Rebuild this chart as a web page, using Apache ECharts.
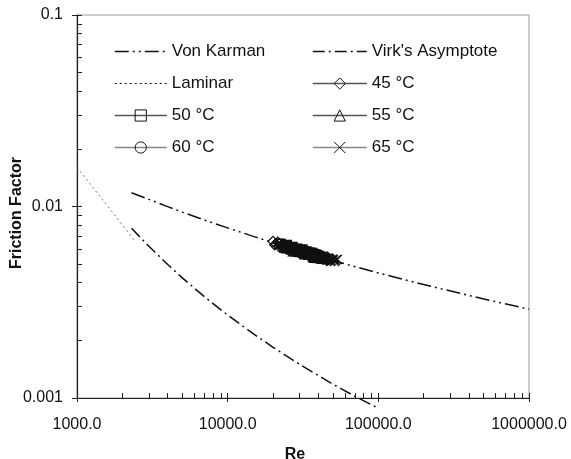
<!DOCTYPE html>
<html>
<head>
<meta charset="utf-8">
<script src="https://cdn.jsdelivr.net/npm/echarts@6/dist/echarts.min.js"></script>
<style>
  html, body { margin: 0; padding: 0; background: #fff; }
  #chart { width: 571px; height: 459px; }
</style>
</head>
<body>
<div id="chart"></div>
<script>
// Axis ticks and labels
const xMajorTicks = [1000, 10000, 100000, 1000000];
const xTickLabels = ['1000.0', '10000.0', '100000.0', '1000000.0'];
const xAllTicks = [1000, 2000, 3000, 4000, 5000, 6000, 7000, 8000, 9000,
  10000, 20000, 30000, 40000, 50000, 60000, 70000, 80000, 90000,
  100000, 200000, 300000, 400000, 500000, 600000, 700000, 800000, 900000, 1000000];
const yMajorTicks = [0.001, 0.01, 0.1];
const yTickLabels = ['0.001', '0.01', '0.1'];
const yAllTicks = [0.001, 0.002, 0.003, 0.004, 0.005, 0.006, 0.007, 0.008, 0.009,
  0.01, 0.02, 0.03, 0.04, 0.05, 0.06, 0.07, 0.08, 0.09, 0.1];

// Von Karman (smooth pipe, Newtonian)
const vonKarmanRe = [2300, 3000, 4000, 5000, 7000, 10000, 15000, 20000, 30000, 50000, 70000, 100000, 200000, 500000, 1000000];
const vonKarmanF = [0.0118, 0.0109, 0.00999, 0.00935, 0.0085, 0.00773, 0.00696, 0.00647, 0.00588, 0.00523, 0.00485, 0.0045, 0.00391, 0.00329, 0.00291];

// Virk's maximum drag reduction asymptote
const virkRe = [2300, 3000, 4000, 5000, 7000, 10000, 15000, 20000, 30000, 50000, 70000, 100000];
const virkF = [0.0077, 0.0062, 0.00498, 0.00424, 0.00338, 0.00271, 0.00215, 0.00184, 0.0015, 0.00118, 0.00102, 0.000885];

// Laminar
const laminarRe = [1000, 1500, 2000, 2400];
const laminarF = [0.016, 0.0107, 0.008, 0.00667];

// Measurements (friction factor x 1000)
const re45 = [20000, 20500, 21000, 21500, 22000, 22500, 23000, 23500, 24000, 24500, 25000, 25500, 26000, 26500, 27000, 27500,
  28000, 28500, 29000, 29500, 30000, 30500, 31000, 31500, 32000, 32500, 33000, 33500, 34000, 34500, 35000, 35500, 36000];
const f45 = [6.58, 6.31, 6.35, 6.52, 6.41, 6.23, 6.20, 6.32, 6.27, 6.02, 6.10, 6.23, 6.15, 6.02, 5.97, 5.88,
  6.05, 6.10, 5.88, 5.82, 5.94, 5.91, 5.79, 5.67, 5.85, 5.89, 5.70, 5.67, 5.77, 5.78, 5.62, 5.54, 5.69];

const re50 = [22000, 22550, 23100, 23650, 24200, 24750, 25300, 25850, 26400, 26950, 27500, 28050, 28600, 29150, 29700, 30250,
  30800, 31350, 31900, 32450, 33000, 33550, 34100, 34650, 35200, 35750, 36300, 36850, 37400, 37950, 38500, 39050, 39600];
const f50 = [6.40, 6.38, 6.18, 6.10, 6.26, 6.31, 6.06, 6.03, 6.13, 6.15, 5.94, 5.83, 6.02, 5.98, 5.84, 5.78,
  5.92, 5.97, 5.74, 5.65, 5.81, 5.82, 5.66, 5.63, 5.72, 5.75, 5.57, 5.46, 5.64, 5.62, 5.49, 5.44, 5.56];

const re55 = [24000, 24650, 25300, 25950, 26600, 27250, 27900, 28550, 29200, 29850, 30500, 31150, 31800, 32450, 33100, 33750,
  34400, 35050, 35700, 36350, 37000, 37650, 38300, 38950, 39600, 40250, 40900, 41550, 42200, 42850, 43500];
const f55 = [6.13, 6.07, 6.19, 6.21, 5.99, 5.87, 6.06, 6.01, 5.86, 5.83, 5.93, 5.98, 5.75, 5.65, 5.82, 5.81,
  5.64, 5.64, 5.71, 5.73, 5.54, 5.43, 5.61, 5.59, 5.45, 5.40, 5.52, 5.58, 5.37, 5.35, 5.44];

const re60 = [26000, 26750, 27500, 28250, 29000, 29750, 30500, 31250, 32000, 32750, 33500, 34250, 35000, 35750, 36500, 37250,
  38000, 38750, 39500, 40250, 41000, 41750, 42500, 43250, 44000, 44750, 45500, 46250, 47000, 47750, 48500];
const f60 = [6.16, 6.16, 5.94, 5.91, 6.00, 5.98, 5.80, 5.67, 5.86, 5.90, 5.67, 5.61, 5.74, 5.70, 5.55, 5.47,
  5.62, 5.64, 5.45, 5.43, 5.52, 5.52, 5.36, 5.28, 5.43, 5.48, 5.28, 5.23, 5.35, 5.32, 5.31];

const re65 = [28000, 28800, 29600, 30400, 31200, 32000, 32800, 33600, 34400, 35200, 36000, 36800, 37600, 38400, 39200, 40000,
  40800, 41600, 42400, 43200, 44000, 44800, 45600, 46400, 47200, 48000, 48800, 49600, 50400, 51200, 52000, 52750, 53500];
const f65 = [6.05, 5.88, 5.85, 5.98, 5.90, 5.67, 5.70, 5.82, 5.77, 5.58, 5.57, 5.75, 5.64, 5.48, 5.46, 5.54,
  5.53, 5.30, 5.36, 5.51, 5.43, 5.30, 5.27, 5.39, 5.35, 5.15, 5.20, 5.32, 5.27, 5.15, 5.22, 5.28, 5.30];

const pairs = (xs, ys, scale) => xs.map((x, i) => [x, ys[i] * (scale || 1)]);
const MILLI = 0.001;

const FONT = 'Liberation Sans, Arial, Helvetica, sans-serif';
const INK = '#111';
const HIDDEN_DOT = { color: 'rgba(0,0,0,0)', borderWidth: 0 };
const VK_DASH = [14, 4, 2, 4, 2, 4];
const VIRK_DASH = [12, 4, 2, 4];
const LAM_DASH = [2, 3];
const CROSS = 'path://M0,0L10,10M10,0L0,10';

function lineOnly(name, data, color, width, dash, clip) {
  return {
    name, type: 'line', data,
    symbol: 'circle', symbolSize: 0, showSymbol: false,
    itemStyle: HIDDEN_DOT,
    lineStyle: { color, width, type: dash },
    clip: clip !== false, silent: true, z: 2
  };
}

function measured(name, data, symbol, size) {
  return {
    name, type: 'line', data,
    symbol, symbolSize: size, showSymbol: true,
    itemStyle: { color: 'rgba(255,255,255,0)', borderColor: INK, borderWidth: 1.2 },
    lineStyle: { color: '#333', width: 1 },
    silent: true, z: 3
  };
}

const legendText = { fontSize: 17, color: INK, fontFamily: FONT };
const legendItem = (name, lineColor, dash, width, marker) => ({
  name,
  lineStyle: { color: lineColor, width: width, type: dash },
  itemStyle: marker ? { color: 'rgba(255,255,255,0)', borderColor: INK, borderWidth: 1 } : HIDDEN_DOT
});

const chart = echarts.init(document.getElementById('chart'), null, { renderer: 'canvas' });

chart.setOption({
  animation: false,
  backgroundColor: '#fff',
  textStyle: { fontFamily: FONT },
  grid: {
    left: 77, right: 42, top: 15, bottom: 61,
    show: true, borderColor: '#9a9a9a', borderWidth: 1,
    containLabel: false, outerBoundsMode: 'none'
  },
  legend: [
    {
      orient: 'vertical', left: 114, top: 43, padding: 0,
      itemWidth: 52, itemHeight: 14, itemGap: 15,
      selectedMode: false, textStyle: legendText,
      data: [
        legendItem('Von Karman', INK, VK_DASH, 1.5, false),
        legendItem('Laminar', INK, LAM_DASH, 1.2, false),
        legendItem('50 °C', '#555', 'solid', 1.5, true),
        legendItem('60 °C', '#888', 'solid', 1.5, true)
      ]
    },
    {
      orient: 'vertical', left: 312, top: 43, padding: 0,
      itemWidth: 54, itemHeight: 14, itemGap: 15,
      selectedMode: false, textStyle: legendText,
      data: [
        legendItem("Virk's Asymptote", INK, VIRK_DASH, 1.5, false),
        legendItem('45 °C', '#555', 'solid', 1.5, true),
        legendItem('55 °C', '#555', 'solid', 1.5, true),
        legendItem('65 °C', '#888', 'solid', 1.5, true)
      ]
    }
  ],
  xAxis: [
    {
      type: 'log', logBase: 10, min: 1000, max: 1000000, position: 'bottom',
      name: 'Re', nameLocation: 'middle', nameGap: 49, nameMoveOverlap: false,
      nameTextStyle: { fontWeight: 'bold', fontSize: 16, color: INK, fontFamily: FONT, padding: [0, 16, 0, 0] },
      axisLine: { show: true, lineStyle: { color: '#222', width: 1.2 } },
      axisTick: { show: true, inside: false, length: 4, customValues: xMajorTicks, lineStyle: { color: '#222' } },
      minorTick: { show: false },
      axisLabel: {
        show: true, margin: 19, fontSize: 16, color: INK, fontFamily: FONT,
        customValues: xMajorTicks,
        formatter: v => xTickLabels[Math.round(Math.log10(v)) - 3]
      },
      splitLine: { show: false }
    },
    {
      type: 'log', logBase: 10, min: 1000, max: 1000000, position: 'bottom',
      axisLine: { show: false },
      axisTick: { show: true, inside: true, length: 5, customValues: xAllTicks, lineStyle: { color: '#222' } },
      minorTick: { show: false },
      axisLabel: { show: false },
      splitLine: { show: false }
    }
  ],
  yAxis: [
    {
      type: 'log', logBase: 10, min: 0.001, max: 0.1, position: 'left',
      name: 'Friction Factor', nameLocation: 'middle', nameGap: 52, nameRotate: 90, nameMoveOverlap: false,
      nameTextStyle: { fontWeight: 'bold', fontSize: 16, color: INK, fontFamily: FONT, padding: [0, 13, 0, 0] },
      axisLine: { show: true, lineStyle: { color: '#222', width: 1.2 } },
      axisTick: { show: true, inside: false, length: 5, customValues: yMajorTicks, lineStyle: { color: '#222' } },
      minorTick: { show: false },
      axisLabel: {
        show: true, margin: 14, fontSize: 16, color: INK, fontFamily: FONT,
        customValues: yMajorTicks,
        formatter: v => yTickLabels[Math.round(Math.log10(v)) + 3]
      },
      splitLine: { show: false }
    },
    {
      type: 'log', logBase: 10, min: 0.001, max: 0.1, position: 'left',
      axisLine: { show: false },
      axisTick: { show: true, inside: true, length: 5, customValues: yAllTicks, lineStyle: { color: '#222' } },
      minorTick: { show: false },
      axisLabel: { show: false },
      splitLine: { show: false }
    }
  ],
  series: [
    lineOnly('Laminar', pairs(laminarRe, laminarF), '#777', 1, LAM_DASH),
    lineOnly('Von Karman', pairs(vonKarmanRe, vonKarmanF), INK, 1.5, VK_DASH),
    lineOnly("Virk's Asymptote", pairs(virkRe, virkF), INK, 1.5, VIRK_DASH, false),
    measured('45 °C', pairs(re45, f45, MILLI), 'diamond', 10),
    measured('50 °C', pairs(re50, f50, MILLI), 'rect', 9),
    measured('55 °C', pairs(re55, f55, MILLI), 'triangle', 10),
    measured('60 °C', pairs(re60, f60, MILLI), 'circle', 9),
    measured('65 °C', pairs(re65, f65, MILLI), CROSS, 9)
  ]
});
</script>
</body>
</html>
